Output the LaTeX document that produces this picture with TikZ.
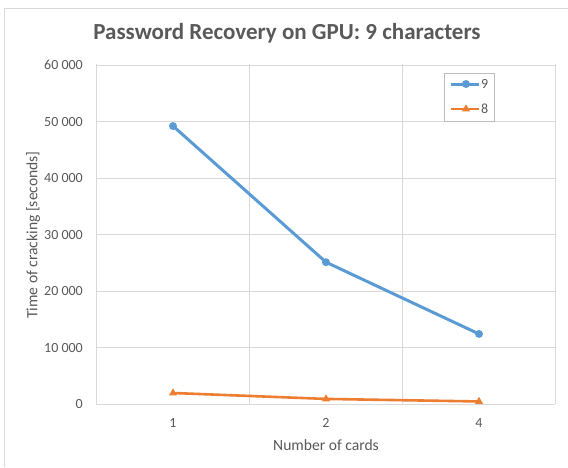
\documentclass[tikz,border=0pt]{standalone}
\usepackage{fontspec}
\setmainfont{Carlito}
\usetikzlibrary{shapes.geometric}
\definecolor{txt}{HTML}{595959}
\definecolor{grid}{HTML}{D9D9D9}
\definecolor{frame}{HTML}{D9D9D9}
\definecolor{legframe}{HTML}{BFBFBF}
\definecolor{serA}{HTML}{5B9BD5}
\definecolor{serB}{HTML}{ED7D31}
\tikzset{
  gridline/.style={draw=grid, line width=0.8pt},
  ticklabel/.style={text=txt, font=\fontsize{14}{16}\selectfont, inner sep=0pt},
  axistitle/.style={text=txt, font=\fontsize{15.6}{18}\selectfont, inner sep=0pt},
  serline/.style={line width=3pt, line join=round, line cap=round},
  dotmark/.style={circle, fill=serA, inner sep=0pt, minimum size=8pt},
  trimark/.style={isosceles triangle, isosceles triangle apex angle=60, shape border rotate=90,
    fill=serB, inner sep=0pt, minimum size=7pt},
}
\begin{document}
\begin{tikzpicture}[x=1pt,y=-1pt]
\useasboundingbox (0,0) rectangle (568,467);
% chart frame
\coordinate (fbl) at (4,467);
\coordinate (ftl) at (4,8);
\coordinate (ftr) at (568,8);
\draw[draw=frame, line width=1pt] (fbl) -- (ftl) -- (ftr);

% title
\node[text=txt, font=\fontsize{23}{27}\selectfont\bfseries, inner sep=0pt] (title) at (287,33) {Password Recovery on GPU: 9 characters};

% plot area grid
\foreach \v/\lab [count=\i] in {0/0,10/10 000,20/20 000,30/30 000,40/40 000,50/50 000,60/60 000}{
  \coordinate (gl\i) at (96,{404-5.65*\v});
  \coordinate (gr\i) at (555,{404-5.65*\v});
  \draw[gridline] (gl\i) -- (gr\i);
  \node[ticklabel, anchor=east] (yt\i) at (83,{404-5.65*\v}) {\lab};
}
\foreach \x [count=\i] in {96,249,402,555}{
  \coordinate (vt\i) at (\x,64);
  \coordinate (vb\i) at (\x,404);
  \draw[gridline] (vt\i) -- (vb\i);
}

% category labels
\node[ticklabel] (xa) at (173,423) {1};
\node[ticklabel] (xb) at (326,423) {2};
\node[ticklabel] (xc) at (479,423) {4};

% axis titles
\node[axistitle] (xtitle) at (326,445) {Number of cards};
\node[axistitle, rotate=90] (ytitle) at (33,235) {Time of cracking [seconds]};

% data series
\begin{scope}[shift={(0,404)}, y=5.65pt]
  \coordinate (a1) at (173,49.2);
  \coordinate (a2) at (326,25.1);
  \coordinate (a3) at (479,12.4);
  \coordinate (b1) at (173,1.95);
  \coordinate (b2) at (326,0.9);
  \coordinate (b3) at (479,0.45);
\end{scope}
\draw[serline, draw=serA] (a1) -- (a2) -- (a3);
\draw[serline, draw=serB, line width=2.6pt] (b1) -- (b2) -- (b3);
\foreach \p in {a1,a2,a3} \node[dotmark] at (\p) {};
\foreach \p in {b1,b2,b3} \node[trimark] at (\p) {};

% legend
\node[draw=legframe, fill=white, line width=0.8pt, minimum width=50pt, minimum height=48pt, inner sep=0pt] (legend) at (469,97) {};
\coordinate (la1) at (451,84);
\coordinate (la2) at (479,84);
\coordinate (lb1) at (451,109);
\coordinate (lb2) at (479,109);
\draw[serline, draw=serA, line cap=butt] (la1) -- (la2);
\draw[serline, draw=serB, line cap=butt, line width=2.6pt] (lb1) -- (lb2);
\node[dotmark] (lma) at (466,84) {};
\node[trimark] (lmb) at (466,109) {};
\node[ticklabel, anchor=west] (lla) at (481,84) {9};
\node[ticklabel, anchor=west] (llb) at (481,109) {8};
\end{tikzpicture}
\end{document}
